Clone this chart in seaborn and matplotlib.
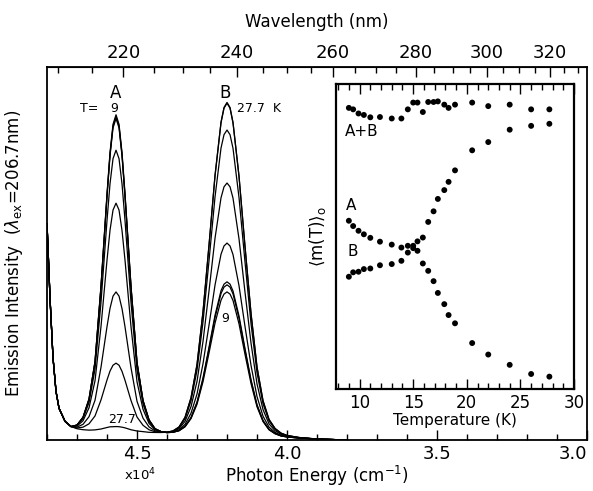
import matplotlib
matplotlib.use('Agg')
import matplotlib.pyplot as plt
import matplotlib.transforms as mtransforms
from matplotlib.ticker import MultipleLocator, FixedLocator
import numpy as np
import pandas as pd
import seaborn as sns

# Emission spectra, photon energy grid in units of 10^4 cm^-1
energy = [4.80, 4.79, 4.78, 4.77, 4.76, 4.74, 4.72, 4.70, 4.68, 4.66,
          4.64, 4.62, 4.60, 4.59, 4.58, 4.57, 4.56, 4.55, 4.54, 4.52,
          4.50, 4.48, 4.46, 4.44, 4.42, 4.40, 4.38, 4.36, 4.34, 4.32,
          4.30, 4.28, 4.26, 4.24, 4.22, 4.21, 4.20, 4.19, 4.18, 4.16,
          4.14, 4.12, 4.10, 4.08, 4.06, 4.04, 4.02, 4.00, 3.96, 3.92,
          3.88, 3.84, 3.80]
# normalised band shapes of peak A and peak B
shape_a = [0, 0, 0, 0, 0, 0, 0, 0.012, 0.04, 0.10,
           0.22, 0.46, 0.75, 0.88, 0.97, 1.0, 0.97, 0.88, 0.75, 0.46,
           0.22, 0.10, 0.04, 0.012, 0.003, 0, 0, 0, 0, 0,
           0, 0, 0, 0, 0, 0, 0, 0, 0, 0,
           0, 0, 0, 0, 0, 0, 0, 0, 0, 0,
           0, 0, 0]
shape_b = [0, 0, 0, 0, 0, 0, 0, 0, 0, 0,
           0, 0, 0, 0, 0, 0, 0, 0, 0, 0,
           0, 0, 0, 0, 0, 0.002, 0.007, 0.02, 0.05, 0.11,
           0.21, 0.37, 0.57, 0.78, 0.94, 0.985, 1.0, 0.985, 0.94, 0.78,
           0.57, 0.37, 0.21, 0.11, 0.055, 0.028, 0.015, 0.008, 0.003, 0.001,
           0, 0, 0]
# scattered excitation tail + baseline
background = [0.58, 0.38, 0.22, 0.13, 0.085, 0.05, 0.036, 0.03, 0.027, 0.025,
              0.024, 0.023, 0.023, 0.023, 0.022, 0.022, 0.022, 0.022, 0.022, 0.021,
              0.021, 0.021, 0.02, 0.02, 0.02, 0.019, 0.018, 0.017, 0.016, 0.015,
              0.015, 0.014, 0.014, 0.013, 0.013, 0.012, 0.012, 0.012, 0.012, 0.011,
              0.01, 0.009, 0.008, 0.007, 0.006, 0.006, 0.005, 0.005, 0.004, 0.003,
              0.002, 0.001, 0.0]

spectrum_temps = [9, 12, 14, 16, 18, 20, 24, 27.7]
peak_a = [0.85, 0.845, 0.84, 0.755, 0.613, 0.375, 0.184, 0.014]
peak_b = [0.385, 0.404, 0.412, 0.516, 0.677, 0.819, 0.891, 0.893]

# Inset: <m(T)>_o versus temperature
temps = [9.0, 9.4, 9.9, 10.4, 11.0, 11.9, 13.0, 13.9, 14.5, 15.0, 15.4, 15.9,
         16.4, 16.9, 17.3, 17.9, 18.3, 18.9, 20.5, 22.0, 24.0, 26.0, 27.7]
m_a = [0.571, 0.553, 0.537, 0.525, 0.513, 0.500, 0.490, 0.480, 0.486, 0.486, 0.469, 0.426,
       0.401, 0.366, 0.326, 0.288, 0.251, 0.223, 0.156, 0.117, 0.082, 0.051, 0.042]
m_b = [0.381, 0.396, 0.398, 0.407, 0.409, 0.420, 0.424, 0.435, 0.463, 0.478, 0.501, 0.514,
       0.567, 0.603, 0.645, 0.675, 0.703, 0.742, 0.810, 0.838, 0.880, 0.893, 0.900]
m_ab = [0.954, 0.949, 0.935, 0.930, 0.922, 0.923, 0.918, 0.918, 0.949, 0.972, 0.972, 0.940,
        0.974, 0.974, 0.976, 0.965, 0.954, 0.965, 0.972, 0.960, 0.965, 0.949, 0.949]

sns.set_style('ticks')
plt.rcParams['font.family'] = ['DejaVu Sans']
plt.rcParams['mathtext.fontset'] = 'dejavusans'
plt.rcParams['text.color'] = 'black'
plt.rcParams['axes.labelcolor'] = 'black'
plt.rcParams['xtick.color'] = 'black'
plt.rcParams['axes.edgecolor'] = 'black'

rows = []
for t, ha, hb in zip(spectrum_temps, peak_a, peak_b):
    for e, sa, sb, bg in zip(energy, shape_a, shape_b, background):
        rows.append({'T': t, 'energy': e, 'intensity': bg + ha * sa + hb * sb})
spec = pd.DataFrame(rows)

inset = pd.DataFrame({'T': temps * 3,
                      'm': m_a + m_b + m_ab,
                      'series': ['A'] * len(temps) + ['B'] * len(temps) + ['A+B'] * len(temps)})

fig = plt.figure(figsize=(5.93, 4.91), dpi=100)
ax = fig.add_axes([0.0793, 0.1039, 0.9106, 0.7596])

sns.lineplot(data=spec, x='energy', y='intensity', units='T', estimator=None,
             color='black', lw=0.9, sort=False, ax=ax)
ax.set_xlim(4.8, 3.0)
ax.set_ylim(0, 1)
ax.xaxis.set_major_locator(FixedLocator([4.5, 4.0, 3.5, 3.0]))
ax.xaxis.set_minor_locator(MultipleLocator(0.1))
ax.tick_params(axis='x', which='both', direction='in', top=False, labelsize=13, width=1)
ax.tick_params(axis='x', which='major', length=7)
ax.tick_params(axis='x', which='minor', length=4)
ax.tick_params(axis='y', left=False, labelleft=False)
ax.set_xlabel('Photon Energy (cm$^{-1}$)', fontsize=12, labelpad=1)
ax.set_ylabel(r'Emission Intensity  ($\lambda_{\rm ex}$=206.7nm)', fontsize=12, labelpad=16)
for s in ax.spines.values():
    s.set_linewidth(1.3)
# keep the last label inside the figure
ax.get_xticklabels()[-1].set_horizontalalignment('right')

trans = mtransforms.blended_transform_factory(ax.transData, ax.transAxes)
ax.text(4.49, -0.095, r'x10$^4$', transform=trans, fontsize=9.5, ha='center', va='center')


def to_nm(e):
    with np.errstate(divide='ignore'):
        return 1000.0 / np.asarray(e, dtype=float)


secax = ax.secondary_xaxis('top', functions=(to_nm, to_nm))
secax.xaxis.set_major_locator(FixedLocator([220, 240, 260, 280, 300, 320]))
secax.xaxis.set_minor_locator(MultipleLocator(5))
secax.tick_params(axis='x', which='both', direction='in', labelsize=13, width=1)
secax.tick_params(axis='x', which='major', length=7)
secax.tick_params(axis='x', which='minor', length=4)
secax.set_xlabel('Wavelength (nm)', fontsize=12, labelpad=12)

# annotations on the spectra
ax.text(4.57, 0.93, 'A', fontsize=12, ha='center', va='center')
ax.text(4.207, 0.93, 'B', fontsize=12, ha='center', va='center')
ax.text(4.63, 0.89, 'T=', fontsize=9, ha='right', va='center')
ax.text(4.577, 0.89, '9', fontsize=9, ha='center', va='center')
ax.text(4.167, 0.888, '27.7  K', fontsize=9, ha='left', va='center')
ax.text(4.207, 0.327, '9', fontsize=9, ha='center', va='center')
ax.text(4.551, 0.054, '27.7', fontsize=9, ha='center', va='center')

# inset
ins = fig.add_axes([0.5666, 0.2077, 0.4014, 0.6212])
sns.scatterplot(data=inset, x='T', y='m', hue='series', palette=['black'] * 3,
                s=18, edgecolor='none', legend=False, ax=ins)
ins.set_xlim(7.8, 30)
ins.set_ylim(0, 1.035)
ins.xaxis.set_major_locator(MultipleLocator(5))
ins.xaxis.set_minor_locator(MultipleLocator(1))
ins.tick_params(axis='x', which='both', direction='in', top=True, labelsize=12, width=1)
ins.tick_params(axis='x', which='major', length=7)
ins.tick_params(axis='x', which='minor', length=4)
ins.tick_params(axis='y', left=False, labelleft=False)
ins.set_xlabel('Temperature (K)', fontsize=11, labelpad=1)
ins.set_ylabel(r'$\langle\mathrm{m(T)}\rangle_\mathrm{o}$', fontsize=12, labelpad=6)
for s in ins.spines.values():
    s.set_linewidth(1.6)
ins.text(10.16, 0.875, 'A+B', fontsize=11, ha='center', va='center')
ins.text(9.17, 0.624, 'A', fontsize=11, ha='center', va='center')
ins.text(9.35, 0.465, 'B', fontsize=11, ha='center', va='center')

fig.savefig('out.png', dpi=100)
